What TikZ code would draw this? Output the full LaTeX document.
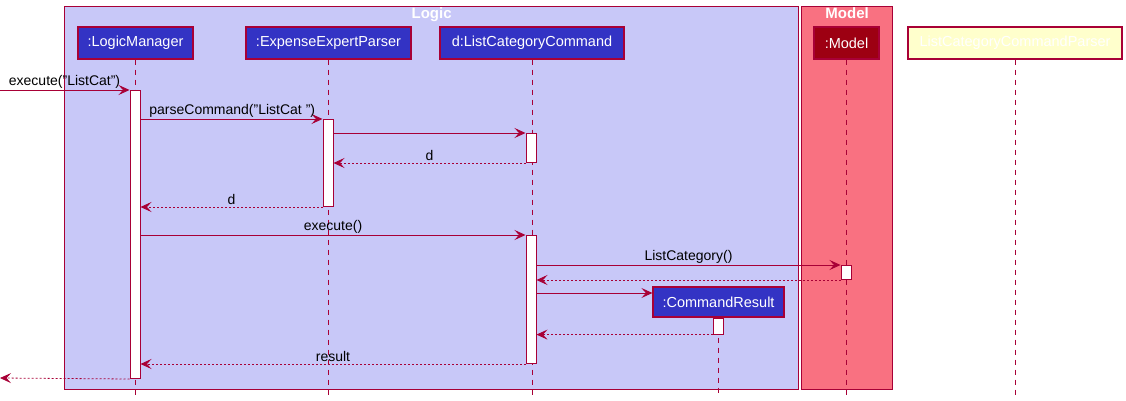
\documentclass[tikz,border=0pt]{standalone}
\usepackage{fontspec}
\setmainfont{Liberation Sans}
\usetikzlibrary{arrows.meta,positioning,calc}
\definecolor{umlred}{HTML}{A80036}
\definecolor{logicfill}{HTML}{C8C8F8}
\definecolor{modelfill}{HTML}{F97181}
\definecolor{partblue}{HTML}{3333C4}
\definecolor{modeldark}{HTML}{9D0012}
\definecolor{parserfill}{HTML}{FFFFCC}
\newcommand{\qt}{\symbol{34}}
\tikzset{
  frame/.style={draw=umlred, line width=1.2pt, anchor=north west, inner sep=0pt},
  title/.style={font=\bfseries\fontsize{15}{17}\selectfont, text=white, anchor=north, inner sep=1pt},
  part/.style={draw=umlred, line width=1.2pt, fill=partblue, text=white,
               minimum height=32pt, font=\fontsize{14.5}{16}\selectfont, inner sep=0pt},
  life/.style={draw=umlred, line width=.8pt, dash pattern=on 5pt off 5pt},
  act/.style={draw=umlred, line width=1pt, fill=white, minimum width=10pt, inner sep=0pt, anchor=north},
  call/.style={-{Stealth[length=11pt,width=10pt,inset=4.5pt]}, draw=umlred, line width=.8pt},
  reply/.style={call, dash pattern=on 2pt off 2pt},
  msg/.style={font=\fontsize{14}{16}\selectfont, inner sep=1.5pt}
}
\begin{document}
\begin{tikzpicture}[x=1pt, y=-1pt]
  \useasboundingbox (0,0) rectangle (1126,401);

  % boxes round the participants
  \node[frame, fill=logicfill, minimum width=734pt, minimum height=383pt] (logic) at (64,6) {};
  \node[frame, fill=modelfill, minimum width=91pt, minimum height=383pt] (model) at (801,6) {};
  \node[title] at (logic.north) {Logic};
  \node[title] at (model.north) {Model};

  % participants
  \node[part, minimum width=115pt] (lm) at (135.5,43) {:LogicManager};
  \node[part, minimum width=165pt] (eep) at (328.5,43) {:ExpenseExpertParser};
  \node[part, minimum width=184pt] (lcc) at (532,43) {d:ListCategoryCommand};
  \node[part, minimum width=65pt, fill=modeldark] (mdl) at (846.5,43) {:Model};
  \node[part, minimum width=214pt, fill=parserfill] (lccp) at (1015,43) {ListCategoryCommandParser};
  \node[part, minimum width=131pt, minimum height=30pt] (cr) at (718.5,302) {:CommandResult};

  \coordinate (bot) at (0,395);
  \coordinate (in) at (0,90);
  \coordinate (out) at (0,378);

  % lifelines
  \foreach \p in {lm,eep,lcc,mdl,lccp,cr}
    \draw[life] (\p.south) -- (\p.south |- bot);

  % activations
  \node[act, minimum height=288pt] (lmact) at (135,90) {};
  \node[act, minimum height=87pt] (eepact) at (328,119) {};
  \node[act, minimum height=29pt] (lccact) at (531,133) {};
  \node[act, minimum height=128pt] (lccrun) at (531,235) {};
  \node[act, minimum height=14pt] (mdlact) at (846,265) {};
  \node[act, minimum height=16pt] (cract) at (cr.south) {};

  % messages
  \draw[call] (in) -- node[msg, above right, pos=0, xshift=7pt] {execute(\qt ListCat\qt)} (lmact.north west);
  \draw[call] (lmact.east |- eepact.north) -- node[msg, above right, pos=0, xshift=7pt] {parseCommand(\qt ListCat \qt)} (eepact.north west);
  \draw[call] (eepact.east |- lccact.north) -- (lccact.north west);
  \draw[reply] (lccact.south west) -- node[msg, above] {d} (eepact.east |- lccact.south);
  \draw[reply] (eepact.south west) -- node[msg, above] {d} (lmact.east |- eepact.south);
  \draw[call] (lmact.east |- lccrun.north) -- node[msg, above] {execute()} (lccrun.north west);
  \draw[call] (lccrun.east |- mdlact.north) -- node[msg, above] {ListCategory()} (mdlact.north west);
  \draw[reply] (mdlact.south west) -- (lccrun.east |- mdlact.south);
  \draw[call] (lccrun.east |- 0,293) -- (cr.west |- 0,293);
  \draw[reply] (cract.south west) -- (lccrun.east |- cract.south);
  \draw[reply] (lccrun.south west) -- node[msg, above] {result} (lmact.east |- lccrun.south);
  \draw[reply] (lmact.south west) -- (out);
\end{tikzpicture}
\end{document}
